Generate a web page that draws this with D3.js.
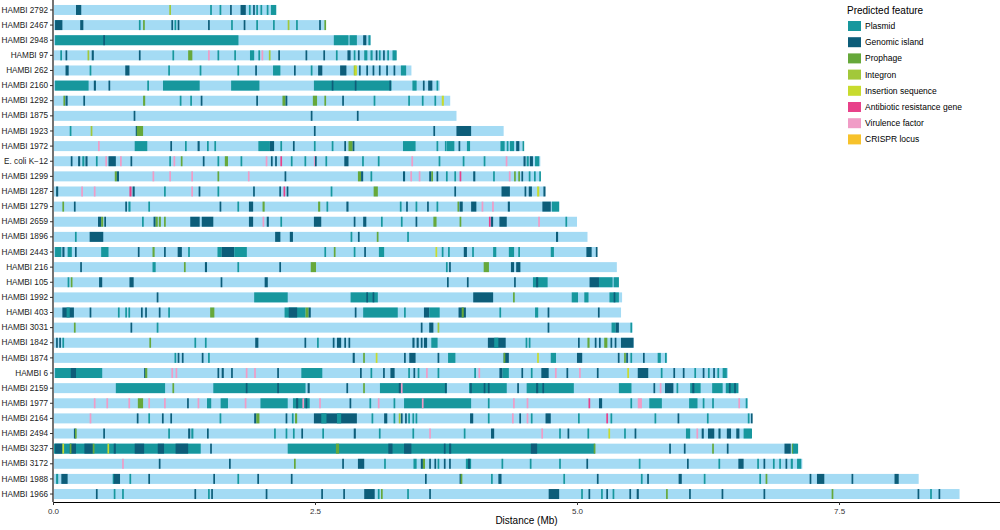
<!DOCTYPE html>
<html>
<head>
<meta charset="utf-8">
<script src="https://cdn.jsdelivr.net/npm/d3@7"></script>
<style>
  body { margin: 0; background: #fff; }
  svg { display: block; font-family: "Liberation Sans", Arial, sans-serif; }
</style>
</head>
<body>
<div id="chart"></div>
<script>
// genomes, top to bottom
const genomes = ["HAMBI 2792", "HAMBI 2467", "HAMBI 2948", "HAMBI 97", "HAMBI 262", "HAMBI 2160",
  "HAMBI 1292", "HAMBI 1875", "HAMBI 1923", "HAMBI 1972", "E. coli K\u221212", "HAMBI 1299",
  "HAMBI 1287", "HAMBI 1279", "HAMBI 2659", "HAMBI 1896", "HAMBI 2443", "HAMBI 216", "HAMBI 105",
  "HAMBI 1992", "HAMBI 403", "HAMBI 3031", "HAMBI 1842", "HAMBI 1874", "HAMBI 6", "HAMBI 2159",
  "HAMBI 1977", "HAMBI 2164", "HAMBI 2494", "HAMBI 3237", "HAMBI 3172", "HAMBI 1988", "HAMBI 1966"];

// genome length (Mb)
const genomeLengths = [2.13, 2.60, 3.03, 3.27, 3.42, 3.69, 3.79, 3.85, 4.30, 4.48, 4.65, 4.65,
  4.69, 4.83, 5.00, 5.10, 5.19, 5.38, 5.40, 5.43, 5.42, 5.53, 5.54, 5.86, 6.44, 6.54,
  6.63, 6.66, 6.66, 7.10, 7.15, 8.26, 8.65];

// feature types + legend
const featureCodes = ["P", "G", "Ph", "I", "IS", "A", "V", "C"];
const featureNames = ["Plasmid", "Genomic island", "Prophage", "Integron", "Insertion sequence",
  "Antibiotic resistance gene", "Virulence factor", "CRISPR locus"];
const featureColors = ["#17979d", "#0d5d79", "#66a83a", "#a2c83a", "#c8db2e", "#e8418a", "#f09cc6", "#f7c22b"];

// features per genome: [start Mb, end Mb, type]
const h2792 = [[0.21,0.26,"G"],[1.10,1.10,"I"],[1.49,1.49,"P"],[1.58,1.58,"P"],[1.68,1.69,"G"],[1.78,1.83,"G"],
  [1.86,1.86,"P"],[1.90,1.90,"G"],[1.93,1.93,"P"],[1.97,1.97,"P"],[2.03,2.03,"P"],[2.07,2.12,"P"]];
const h2467 = [[0.01,0.08,"G"],[0.25,0.28,"G"],[0.81,0.81,"P"],[0.85,0.85,"Ph"],[1.12,1.12,"G"],[1.15,1.15,"P"],
  [1.18,1.18,"G"],[1.47,1.47,"G"],[1.69,1.69,"P"],[1.81,1.82,"G"],[1.93,1.93,"P"],[2.09,2.09,"P"],[2.23,2.23,"I"],
  [2.31,2.31,"P"],[2.53,2.53,"G"],[2.58,2.58,"Ph"]];
const h2948 = [[0.01,1.76,"P"],[0.47,0.47,"G"],[2.67,2.81,"P"],[2.82,2.89,"P"],[2.95,2.98,"G"],[3.00,3.02,"P"]];
const h97 = [[0.06,0.06,"P"],[0.11,0.11,"G"],[0.32,0.32,"I"],[0.36,0.38,"G"],[0.81,0.82,"G"],[1.13,1.13,"P"],
  [1.28,1.32,"Ph"],[1.47,1.47,"V"],[1.56,1.56,"P"],[1.72,1.72,"P"],[1.87,1.91,"P"],[1.95,1.95,"P"],[1.98,1.98,"V"],
  [2.05,2.05,"I"],[2.14,2.15,"G"],[2.40,2.41,"G"],[2.57,2.58,"G"],[2.69,2.69,"P"],[2.80,2.83,"G"],[2.86,2.86,"P"],
  [2.90,2.91,"G"],[2.96,2.99,"P"],[3.02,3.04,"P"],[3.07,3.07,"G"],[3.10,3.10,"P"],[3.14,3.15,"G"],[3.18,3.18,"P"],
  [3.23,3.27,"P"]];
const h262 = [[0.11,0.14,"G"],[0.34,0.34,"P"],[0.68,0.72,"G"],[1.09,1.09,"P"],[1.39,1.39,"P"],[1.75,1.75,"P"],
  [1.92,1.93,"G"],[2.09,2.16,"P"],[2.29,2.30,"G"],[2.45,2.45,"P"],[2.52,2.56,"G"],[2.73,2.79,"G"],[2.86,2.87,"I"],
  [2.87,2.89,"IS"],[2.91,2.91,"G"],[2.98,2.98,"G"],[3.04,3.04,"G"],[3.10,3.11,"G"],[3.17,3.17,"G"],[3.24,3.24,"G"],
  [3.31,3.36,"P"]];
const h2160 = [[0.01,0.33,"P"],[0.38,0.40,"G"],[0.52,0.52,"G"],[0.89,0.89,"P"],[1.04,1.39,"P"],[1.69,1.96,"P"],
  [2.48,3.22,"P"],[2.65,2.65,"G"],[2.87,2.87,"G"],[3.20,3.21,"G"],[3.42,3.46,"P"],[3.52,3.52,"G"],[3.57,3.61,"G"],
  [3.65,3.65,"P"]];
const h1292 = [[0.09,0.10,"Ph"],[0.11,0.13,"G"],[0.28,0.28,"G"],[0.85,0.87,"Ph"],[1.20,1.20,"P"],[1.30,1.30,"P"],
  [1.40,1.40,"G"],[1.93,1.93,"G"],[2.18,2.21,"Ph"],[2.21,2.22,"G"],[2.47,2.51,"Ph"],[2.58,2.58,"Ph"],[2.75,2.75,"G"],
  [3.05,3.05,"P"],[3.38,3.38,"P"],[3.51,3.51,"P"],[3.63,3.63,"P"],[3.70,3.72,"IS"]];
const h1875 = [[0.76,0.77,"G"],[2.45,2.45,"G"],[2.89,2.89,"G"]];
const h1923 = [[0.15,0.15,"P"],[0.35,0.35,"I"],[0.78,0.79,"G"],[0.79,0.85,"Ph"],[2.48,2.48,"G"],[3.62,3.62,"G"],
  [3.84,3.98,"G"]];
const h1972 = [[0.42,0.42,"V"],[0.77,0.89,"P"],[1.11,1.11,"G"],[1.25,1.25,"P"],[1.37,1.39,"G"],[1.46,1.46,"P"],
  [1.53,1.53,"P"],[1.95,2.06,"P"],[2.06,2.10,"G"],[2.16,2.16,"P"],[2.28,2.28,"G"],[2.48,2.48,"P"],[2.65,2.65,"P"],
  [2.77,2.77,"G"],[2.81,2.85,"Ph"],[2.85,2.86,"G"],[3.33,3.45,"P"],[3.65,3.65,"P"],[3.73,3.73,"P"],[3.75,3.82,"P"],
  [3.86,3.86,"G"],[3.94,3.97,"P"],[4.26,4.30,"P"],[4.32,4.33,"P"],[4.35,4.39,"P"],[4.41,4.44,"G"],[4.47,4.47,"P"]];
const ecoli = [[0.16,0.16,"G"],[0.23,0.25,"G"],[0.27,0.29,"P"],[0.30,0.32,"G"],[0.40,0.40,"P"],[0.49,0.49,"V"],
  [0.52,0.59,"G"],[0.63,0.63,"V"],[0.73,0.73,"G"],[1.10,1.10,"P"],[1.14,1.14,"V"],[1.21,1.22,"Ph"],[1.42,1.42,"G"],
  [1.56,1.56,"P"],[1.63,1.66,"Ph"],[1.78,1.78,"P"],[2.02,2.02,"V"],[2.07,2.07,"G"],[2.11,2.11,"G"],[2.16,2.16,"A"],
  [2.26,2.26,"P"],[2.39,2.39,"P"],[2.48,2.48,"V"],[2.49,2.50,"G"],[2.59,2.59,"P"],[2.77,2.81,"G"],[2.94,2.94,"P"],
  [3.09,3.09,"P"],[3.41,3.41,"V"],[3.67,3.67,"P"],[3.90,3.90,"P"],[4.10,4.10,"P"],[4.31,4.31,"V"],[4.48,4.50,"G"],
  [4.51,4.53,"P"],[4.54,4.57,"G"],[4.59,4.63,"P"]];
const h1299 = [[0.58,0.60,"Ph"],[0.60,0.62,"G"],[0.94,0.94,"V"],[1.10,1.10,"V"],[1.31,1.31,"V"],[1.56,1.56,"Ph"],
  [1.85,1.85,"V"],[2.20,2.20,"G"],[2.90,2.93,"Ph"],[2.93,2.95,"G"],[3.02,3.02,"P"],[3.33,3.35,"G"],[3.40,3.40,"V"],
  [3.48,3.48,"V"],[3.58,3.60,"G"],[3.60,3.61,"Ph"],[3.65,3.65,"G"],[3.74,3.74,"P"],[3.82,3.82,"P"],[3.87,3.87,"A"],
  [4.00,4.02,"G"],[4.19,4.19,"P"],[4.34,4.34,"V"],[4.39,4.39,"Ph"],[4.43,4.43,"Ph"],[4.46,4.46,"G"],[4.53,4.53,"P"],
  [4.58,4.58,"P"],[4.63,4.63,"P"]];
const h1287 = [[0.02,0.04,"G"],[0.26,0.26,"V"],[0.38,0.38,"V"],[0.72,0.74,"A"],[0.75,0.77,"G"],[1.05,1.05,"P"],
  [1.31,1.31,"V"],[1.38,1.38,"G"],[1.56,1.56,"P"],[1.90,1.90,"G"],[2.15,2.15,"G"],[2.19,2.19,"A"],[2.22,2.22,"G"],
  [2.64,2.64,"P"],[3.05,3.09,"Ph"],[3.82,3.83,"G"],[4.27,4.35,"G"],[4.49,4.49,"G"],[4.53,4.56,"G"],[4.61,4.63,"IS"],
  [4.67,4.69,"G"]];
const h1279 = [[0.08,0.09,"Ph"],[0.19,0.19,"G"],[0.68,0.68,"G"],[0.71,0.73,"P"],[0.90,0.90,"P"],[1.58,1.58,"G"],
  [1.75,1.75,"P"],[1.86,1.90,"G"],[1.99,2.01,"Ph"],[2.52,2.54,"Ph"],[2.60,2.60,"P"],[2.79,2.81,"G"],[3.30,3.30,"P"],
  [3.36,3.36,"G"],[3.45,3.45,"P"],[3.56,3.56,"G"],[3.65,3.65,"P"],[3.85,3.86,"Ph"],[3.87,3.90,"G"],[3.98,4.03,"G"],
  [4.08,4.08,"V"],[4.18,4.18,"V"],[4.33,4.35,"G"],[4.66,4.74,"G"],[4.75,4.82,"P"]];
const h2659 = [[0.42,0.45,"G"],[0.45,0.47,"Ph"],[0.48,0.48,"G"],[0.84,0.84,"P"],[0.95,0.97,"G"],[0.97,0.99,"Ph"],
  [1.00,1.02,"Ph"],[1.05,1.05,"Ph"],[1.30,1.39,"G"],[1.41,1.52,"G"],[1.86,1.90,"G"],[1.99,1.99,"V"],[2.03,2.05,"G"],
  [2.16,2.16,"P"],[2.48,2.55,"G"],[2.86,2.86,"G"],[2.95,2.98,"G"],[3.12,3.12,"P"],[3.31,3.31,"P"],[3.45,3.45,"G"],
  [3.62,3.65,"Ph"],[3.87,3.88,"Ph"],[4.15,4.15,"A"],[4.17,4.19,"G"],[4.25,4.32,"G"],[4.62,4.62,"V"],[4.88,4.88,"P"]];
const h1896 = [[0.20,0.20,"P"],[0.34,0.47,"G"],[2.11,2.16,"G"],[2.25,2.28,"G"],[2.83,2.83,"P"],[2.90,2.90,"G"],
  [3.08,3.08,"Ph"],[3.37,3.37,"P"],[4.79,4.81,"G"]];
const h2443 = [[0.01,0.07,"P"],[0.08,0.10,"G"],[0.13,0.17,"P"],[0.20,0.20,"G"],[0.45,0.52,"P"],[0.80,0.80,"G"],
  [0.94,0.96,"Ph"],[1.05,1.05,"G"],[1.18,1.22,"G"],[1.28,1.28,"P"],[1.56,1.60,"P"],[1.60,1.72,"G"],[1.72,1.84,"P"],
  [2.58,2.58,"P"],[2.67,2.67,"Ph"],[2.86,2.86,"P"],[2.96,2.96,"G"],[3.10,3.15,"P"],[3.64,3.64,"IS"],[3.70,3.70,"P"],
  [3.76,3.76,"P"],[3.91,3.94,"G"],[3.99,3.99,"P"],[4.19,4.22,"P"],[4.34,4.39,"P"],[4.43,4.43,"P"],[4.74,4.77,"P"],
  [5.08,5.13,"G"],[5.17,5.17,"G"]];
const h216 = [[0.25,0.25,"G"],[0.94,0.97,"P"],[1.24,1.24,"Ph"],[1.44,1.46,"G"],[1.75,1.75,"P"],[2.15,2.15,"G"],
  [2.45,2.50,"Ph"],[3.74,3.74,"P"],[3.77,3.78,"G"],[4.10,4.15,"Ph"],[4.36,4.39,"G"],[4.41,4.45,"G"]];
const h105 = [[0.13,0.13,"P"],[0.16,0.16,"Ph"],[0.43,0.46,"G"],[0.72,0.76,"G"],[1.59,1.59,"G"],[2.01,2.04,"G"],
  [3.75,3.75,"G"],[3.94,3.94,"G"],[4.39,4.39,"G"],[4.57,4.71,"P"],[4.60,4.62,"G"],[5.11,5.20,"G"],[5.20,5.33,"P"],
  [5.34,5.39,"P"]];
const h1992 = [[0.98,0.99,"G"],[1.91,2.23,"P"],[2.83,3.09,"P"],[2.98,2.99,"G"],[3.04,3.05,"G"],[4.00,4.19,"G"],
  [4.38,4.38,"Ph"],[4.94,5.00,"P"],[5.06,5.10,"P"],[5.30,5.39,"P"],[5.34,5.35,"G"]];
const h403 = [[0.08,0.19,"G"],[0.12,0.15,"P"],[0.34,0.34,"G"],[0.61,0.61,"P"],[0.68,0.68,"P"],[0.71,0.71,"P"],
  [0.83,0.84,"G"],[0.87,0.88,"G"],[1.00,1.00,"G"],[1.09,1.09,"P"],[1.49,1.53,"Ph"],[2.20,2.40,"P"],[2.24,2.32,"G"],
  [2.40,2.43,"Ph"],[2.43,2.45,"G"],[2.87,2.87,"G"],[2.95,3.28,"P"],[3.34,3.34,"P"],[3.53,3.58,"G"],[3.58,3.68,"P"],
  [3.86,3.93,"G"],[3.89,3.91,"Ph"],[4.25,4.25,"P"],[4.59,4.62,"P"],[4.71,4.71,"G"],[5.19,5.19,"G"]];
const h3031 = [[0.19,0.19,"Ph"],[0.73,0.73,"G"],[0.98,0.98,"P"],[3.50,3.50,"G"],[3.58,3.62,"G"],[3.66,3.66,"I"],
  [4.71,4.71,"G"],[5.32,5.36,"P"],[5.36,5.39,"G"],[5.50,5.50,"P"]];
const h1842 = [[0.02,0.02,"G"],[0.05,0.05,"G"],[0.08,0.08,"P"],[0.91,0.91,"Ph"],[1.34,1.34,"P"],[1.44,1.44,"P"],
  [1.92,1.95,"G"],[2.39,2.39,"G"],[2.51,2.51,"P"],[2.66,2.67,"G"],[2.70,2.74,"G"],[2.77,2.78,"G"],[2.81,2.82,"G"],
  [3.42,3.44,"G"],[3.46,3.48,"G"],[3.50,3.51,"G"],[3.53,3.56,"G"],[3.60,3.66,"P"],[4.14,4.31,"G"],[4.20,4.24,"P"],
  [4.50,4.50,"P"],[4.53,4.53,"P"],[5.00,5.00,"G"],[5.09,5.11,"Ph"],[5.16,5.16,"G"],[5.20,5.20,"G"],[5.25,5.28,"Ph"],
  [5.31,5.31,"G"],[5.35,5.35,"G"],[5.41,5.53,"G"]];
const h1874 = [[1.15,1.15,"P"],[1.18,1.19,"G"],[1.22,1.23,"G"],[1.41,1.41,"G"],[1.47,1.48,"P"],[2.85,2.87,"G"],
  [2.95,2.95,"Ph"],[3.07,3.07,"IS"],[3.34,3.34,"G"],[3.39,3.45,"G"],[3.66,3.67,"G"],[3.76,3.83,"P"],[4.29,4.34,"G"],
  [4.29,4.29,"Ph"],[4.61,4.61,"IS"],[4.74,4.79,"P"],[4.99,5.04,"G"],[5.38,5.38,"G"],[5.44,5.45,"Ph"],[5.46,5.47,"G"],
  [5.50,5.50,"P"],[5.62,5.62,"G"],[5.76,5.79,"P"],[5.83,5.83,"P"]];
const h6 = [[0.01,0.46,"P"],[0.16,0.21,"G"],[0.86,0.87,"G"],[0.87,0.89,"Ph"],[1.12,1.12,"V"],[1.16,1.16,"V"],
  [1.56,1.57,"G"],[1.60,1.62,"G"],[1.69,1.69,"G"],[1.83,1.83,"V"],[1.91,1.91,"V"],[2.13,2.14,"G"],[2.36,2.56,"P"],
  [2.92,2.93,"G"],[3.02,3.02,"P"],[3.14,3.15,"G"],[3.21,3.25,"G"],[3.38,3.38,"P"],[3.43,3.43,"G"],[3.47,3.47,"P"],
  [3.55,3.55,"V"],[3.66,3.66,"P"],[4.01,4.01,"P"],[4.05,4.05,"V"],[4.25,4.28,"G"],[4.28,4.34,"P"],[4.46,4.46,"G"],
  [4.55,4.55,"P"],[4.65,4.72,"G"],[4.78,4.78,"V"],[4.89,4.90,"G"],[5.01,5.01,"V"],[5.18,5.18,"G"],[5.47,5.47,"IS"],
  [5.57,5.67,"G"],[5.79,5.80,"P"],[5.91,5.91,"G"],[6.00,6.01,"G"],[6.11,6.11,"P"],[6.19,6.19,"G"],[6.24,6.24,"P"],
  [6.29,6.29,"G"],[6.33,6.33,"P"],[6.38,6.42,"P"]];
const h2159 = [[0.59,1.06,"P"],[1.13,1.13,"Ph"],[1.52,2.40,"P"],[1.83,1.83,"G"],[2.13,2.14,"G"],[2.42,2.44,"G"],
  [2.79,2.79,"G"],[2.95,2.96,"Ph"],[3.11,3.75,"P"],[3.29,3.31,"G"],[3.31,3.31,"V"],[3.73,3.73,"G"],[3.96,4.32,"P"],
  [3.97,3.97,"G"],[4.10,4.10,"G"],[4.14,4.14,"G"],[4.42,4.43,"G"],[4.51,4.96,"P"],[4.60,4.62,"G"],[4.66,4.67,"G"],
  [5.39,5.51,"P"],[5.72,5.72,"G"],[5.78,5.78,"V"],[5.83,5.91,"G"],[5.94,5.94,"P"],[6.07,6.17,"P"],[6.09,6.11,"G"],
  [6.28,6.38,"P"],[6.41,6.53,"P"],[6.44,6.45,"G"],[6.49,6.50,"G"]];
const h1977 = [[0.38,0.38,"V"],[0.50,0.50,"V"],[0.71,0.71,"V"],[0.80,0.85,"Ph"],[0.90,0.90,"V"],[1.05,1.05,"V"],
  [1.27,1.27,"G"],[1.37,1.37,"V"],[1.46,1.50,"P"],[1.59,1.66,"P"],[1.82,1.82,"V"],[1.97,2.23,"P"],[2.28,2.44,"P"],
  [2.31,2.33,"G"],[2.37,2.38,"V"],[2.40,2.41,"G"],[2.53,2.53,"V"],[2.82,2.82,"G"],[3.01,3.01,"P"],[3.09,3.09,"V"],
  [3.24,3.24,"P"],[3.34,3.98,"P"],[3.51,3.51,"V"],[4.14,4.14,"P"],[4.38,4.38,"V"],[4.51,4.51,"V"],[5.10,5.10,"A"],
  [5.20,5.23,"G"],[5.50,5.50,"P"],[5.57,5.61,"V"],[5.68,5.80,"P"],[6.06,6.14,"P"],[6.19,6.19,"P"],[6.28,6.28,"P"],
  [6.53,6.53,"V"],[6.60,6.60,"P"]];
const h2164 = [[0.34,0.34,"V"],[0.79,0.79,"G"],[0.90,0.90,"P"],[1.03,1.03,"G"],[1.11,1.11,"G"],[1.58,1.58,"P"],
  [1.91,1.93,"G"],[1.93,1.96,"Ph"],[2.21,2.21,"G"],[2.27,2.27,"P"],[2.30,2.32,"Ph"],[2.48,2.89,"G"],[2.55,2.60,"P"],
  [2.70,2.74,"P"],[3.03,3.03,"P"],[3.15,3.18,"G"],[3.24,3.24,"P"],[3.29,3.29,"I"],[3.31,3.32,"G"],[3.35,3.35,"G"],
  [3.38,3.38,"P"],[3.42,3.42,"P"],[3.45,3.45,"P"],[3.97,4.00,"G"],[4.14,4.14,"P"],[4.37,4.37,"V"],[4.44,4.44,"G"],
  [4.51,4.51,"V"],[4.55,4.55,"P"],[4.69,4.74,"G"],[5.00,5.00,"P"],[5.27,5.27,"A"],[5.31,5.31,"P"],[5.73,5.73,"P"],
  [5.95,5.95,"G"],[6.23,6.23,"P"],[6.62,6.63,"P"],[6.65,6.66,"G"]];
const h2494 = [[0.19,0.20,"G"],[0.20,0.21,"Ph"],[0.47,0.47,"G"],[1.09,1.09,"P"],[1.28,1.30,"G"],[1.31,1.33,"P"],
  [1.46,1.46,"G"],[2.10,2.10,"P"],[2.21,2.21,"P"],[2.28,2.28,"P"],[2.36,2.37,"G"],[2.56,2.56,"P"],[2.86,2.88,"G"],
  [3.10,3.10,"P"],[3.42,3.42,"P"],[3.58,3.58,"V"],[3.91,3.91,"P"],[4.17,4.20,"G"],[4.65,4.65,"V"],[4.82,4.82,"P"],
  [4.90,4.90,"G"],[5.09,5.09,"P"],[5.29,5.29,"IS"],[5.44,5.44,"P"],[5.54,5.54,"G"],[6.03,6.07,"P"],[6.13,6.13,"V"],
  [6.18,6.20,"G"],[6.24,6.30,"G"],[6.34,6.36,"G"],[6.42,6.46,"G"],[6.51,6.54,"G"],[6.58,6.66,"P"]];
const h3237 = [[0.00,1.40,"P"],[0.01,0.08,"G"],[0.08,0.08,"IS"],[0.15,0.21,"G"],[0.15,0.15,"Ph"],[0.29,0.37,"G"],
  [0.37,0.37,"Ph"],[0.51,0.51,"IS"],[0.57,0.59,"G"],[0.77,0.86,"G"],[0.99,1.05,"G"],[1.16,1.28,"G"],[1.49,1.49,"G"],
  [2.23,5.16,"P"],[2.69,2.72,"Ph"],[3.19,3.23,"G"],[3.34,3.41,"G"],[3.72,3.73,"G"],[3.77,3.79,"G"],[4.55,4.61,"G"],
  [5.15,5.16,"Ph"],[5.87,5.87,"G"],[6.01,6.01,"G"],[6.28,6.28,"Ph"],[6.42,6.42,"G"],[6.97,7.03,"G"],[7.04,7.04,"Ph"],
  [7.05,7.10,"P"]];
const h3172 = [[0.65,0.65,"V"],[1.00,1.00,"G"],[1.67,1.67,"G"],[2.29,2.29,"Ph"],[2.75,2.75,"G"],[2.90,2.96,"G"],
  [3.15,3.15,"P"],[3.43,3.46,"P"],[3.50,3.52,"G"],[3.52,3.54,"Ph"],[3.58,3.58,"G"],[3.63,3.63,"G"],[3.66,3.66,"P"],
  [3.72,3.72,"G"],[3.77,3.77,"G"],[3.93,3.98,"P"],[3.95,3.97,"G"],[4.27,4.27,"P"],[4.54,4.54,"P"],[4.82,4.82,"P"],
  [5.08,5.08,"G"],[5.58,5.58,"P"],[6.04,6.04,"G"],[6.34,6.34,"P"],[6.53,6.58,"G"],[6.71,6.71,"P"],[6.77,6.77,"G"],
  [6.86,6.86,"P"],[6.92,6.92,"P"],[6.98,6.98,"G"],[7.03,7.05,"P"],[7.09,7.13,"P"]];
const h1988 = [[0.02,0.04,"P"],[0.07,0.13,"G"],[0.56,0.56,"P"],[0.57,0.63,"G"],[0.72,0.72,"P"],[0.90,0.91,"G"],
  [1.52,1.53,"G"],[1.75,1.75,"P"],[1.94,1.95,"G"],[2.26,2.27,"G"],[3.54,3.54,"G"],[3.87,3.88,"G"],[3.88,3.89,"Ph"],
  [4.17,4.17,"P"],[4.24,4.27,"G"],[4.86,4.86,"P"],[5.18,5.19,"G"],[5.60,5.60,"P"],[5.66,5.66,"G"],[5.96,5.99,"G"],
  [6.20,6.20,"P"],[6.73,6.73,"P"],[6.79,6.79,"Ph"],[7.21,7.22,"G"],[7.28,7.35,"G"],[7.61,7.62,"G"],[8.02,8.06,"G"]];
const h1966 = [[0.40,0.40,"G"],[0.57,0.57,"P"],[0.65,0.65,"P"],[1.34,1.34,"G"],[1.47,1.47,"P"],[1.50,1.50,"G"],
  [2.02,2.02,"G"],[2.55,2.55,"G"],[2.76,2.77,"G"],[2.96,3.06,"G"],[3.09,3.09,"P"],[3.12,3.12,"Ph"],[3.37,3.37,"P"],
  [3.58,3.58,"G"],[4.72,4.82,"G"],[5.03,5.03,"P"],[5.10,5.10,"G"],[5.22,5.22,"P"],[5.27,5.27,"G"],[5.33,5.33,"P"],
  [5.49,5.50,"G"],[5.56,5.58,"G"],[5.84,5.84,"Ph"],[6.06,6.06,"G"],[6.37,6.37,"G"],[6.77,6.77,"G"],[7.42,7.42,"Ph"],
  [8.24,8.24,"G"],[8.36,8.36,"P"],[8.44,8.44,"G"]];

// same order as genomes
const featureSets = [h2792, h2467, h2948, h97, h262, h2160, h1292, h1875, h1923, h1972, ecoli, h1299,
  h1287, h1279, h2659, h1896, h2443, h216, h105, h1992, h403, h3031, h1842, h1874, h6, h2159,
  h1977, h2164, h2494, h3237, h3172, h1988, h1966];

const xTicks = [0, 2.5, 5, 7.5];

// layout
let width = 1000;
let height = 530;
let left = 53;
let axisY = 502;

let svg = d3.select("#chart")
  .append("svg")
  .attr("width", width)
  .attr("height", height);

let xScale = d3.scaleLinear()
  .domain([0, 9.036])
  .range([left, width]);

let yScale = d3.scaleBand()
  .domain(genomes)
  .range([2.4, 501.6])
  .paddingInner(0.34)
  .paddingOuter(0.17);

let color = d3.scaleOrdinal()
  .domain(featureCodes)
  .range(featureColors);

let rows = genomes.map(function(g, i) {
  return { name: g, length: genomeLengths[i], features: featureSets[i] };
});

// light blue genome bars
svg.append("g")
  .selectAll("rect")
  .data(rows)
  .enter()
  .append("rect")
  .attr("x", xScale(0) + 1)
  .attr("y", function(d) { return yScale(d.name); })
  .attr("width", function(d) { return xScale(d.length) - xScale(0) - 1; })
  .attr("height", yScale.bandwidth())
  .attr("fill", "#a4dbf4");

// feature marks
let rowG = svg.append("g")
  .selectAll("g")
  .data(rows)
  .enter()
  .append("g")
  .attr("transform", function(d) { return "translate(0," + yScale(d.name) + ")"; });

rowG.selectAll("rect")
  .data(function(d) { return d.features; })
  .enter()
  .append("rect")
  .attr("x", function(f) { return xScale(f[0]) + 1; })
  .attr("y", 0)
  .attr("width", function(f) { return Math.max(1.7, xScale(f[1]) - xScale(f[0])); })
  .attr("height", yScale.bandwidth())
  .attr("fill", function(f) { return color(f[2]); });

// x axis
let xAxis = svg.append("g")
  .attr("transform", "translate(0," + axisY + ")")
  .call(d3.axisBottom(xScale)
    .tickValues(xTicks)
    .tickSize(3)
    .tickSizeOuter(0)
    .tickFormat(d3.format(".1f")));
xAxis.select(".domain").attr("stroke", "#000").attr("stroke-width", 1.1);
xAxis.selectAll(".tick line").attr("stroke", "#333");
xAxis.selectAll("text")
  .attr("fill", "#333")
  .attr("dy", "0.8em")
  .style("font-size", "8px");

// y axis
let yAxis = svg.append("g")
  .attr("transform", "translate(" + left + ",0)")
  .call(d3.axisLeft(yScale).tickSize(3).tickSizeOuter(0));
yAxis.select(".domain").attr("stroke", "#000").attr("stroke-width", 1.1)
  .attr("d", "M0,0V" + axisY);
yAxis.selectAll(".tick line").attr("stroke", "#333");
yAxis.selectAll("text")
  .attr("fill", "#222")
  .attr("x", -5)
  .style("font-size", "8.2px");

// axis title
svg.append("text")
  .attr("x", (left + width) / 2)
  .attr("y", 524)
  .attr("text-anchor", "middle")
  .style("font-size", "10px")
  .attr("fill", "#000")
  .text("Distance (Mb)");

// legend
let legend = svg.append("g")
  .attr("transform", "translate(847,0)");

legend.append("text")
  .attr("x", 0)
  .attr("y", 14)
  .style("font-size", "10px")
  .attr("fill", "#000")
  .text("Predicted feature");

legend.selectAll("rect")
  .data(featureNames)
  .enter()
  .append("rect")
  .attr("x", 1)
  .attr("y", function(d, i) { return 21 + i * 16.2; })
  .attr("width", 13)
  .attr("height", 10)
  .attr("fill", function(d, i) { return featureColors[i]; });

legend.selectAll(".legend-label")
  .data(featureNames)
  .enter()
  .append("text")
  .attr("class", "legend-label")
  .attr("x", 18)
  .attr("y", function(d, i) { return 26 + i * 16.2; })
  .attr("dy", "0.35em")
  .style("font-size", "8.5px")
  .attr("fill", "#000")
  .text(function(d) { return d; });
</script>
</body>
</html>
